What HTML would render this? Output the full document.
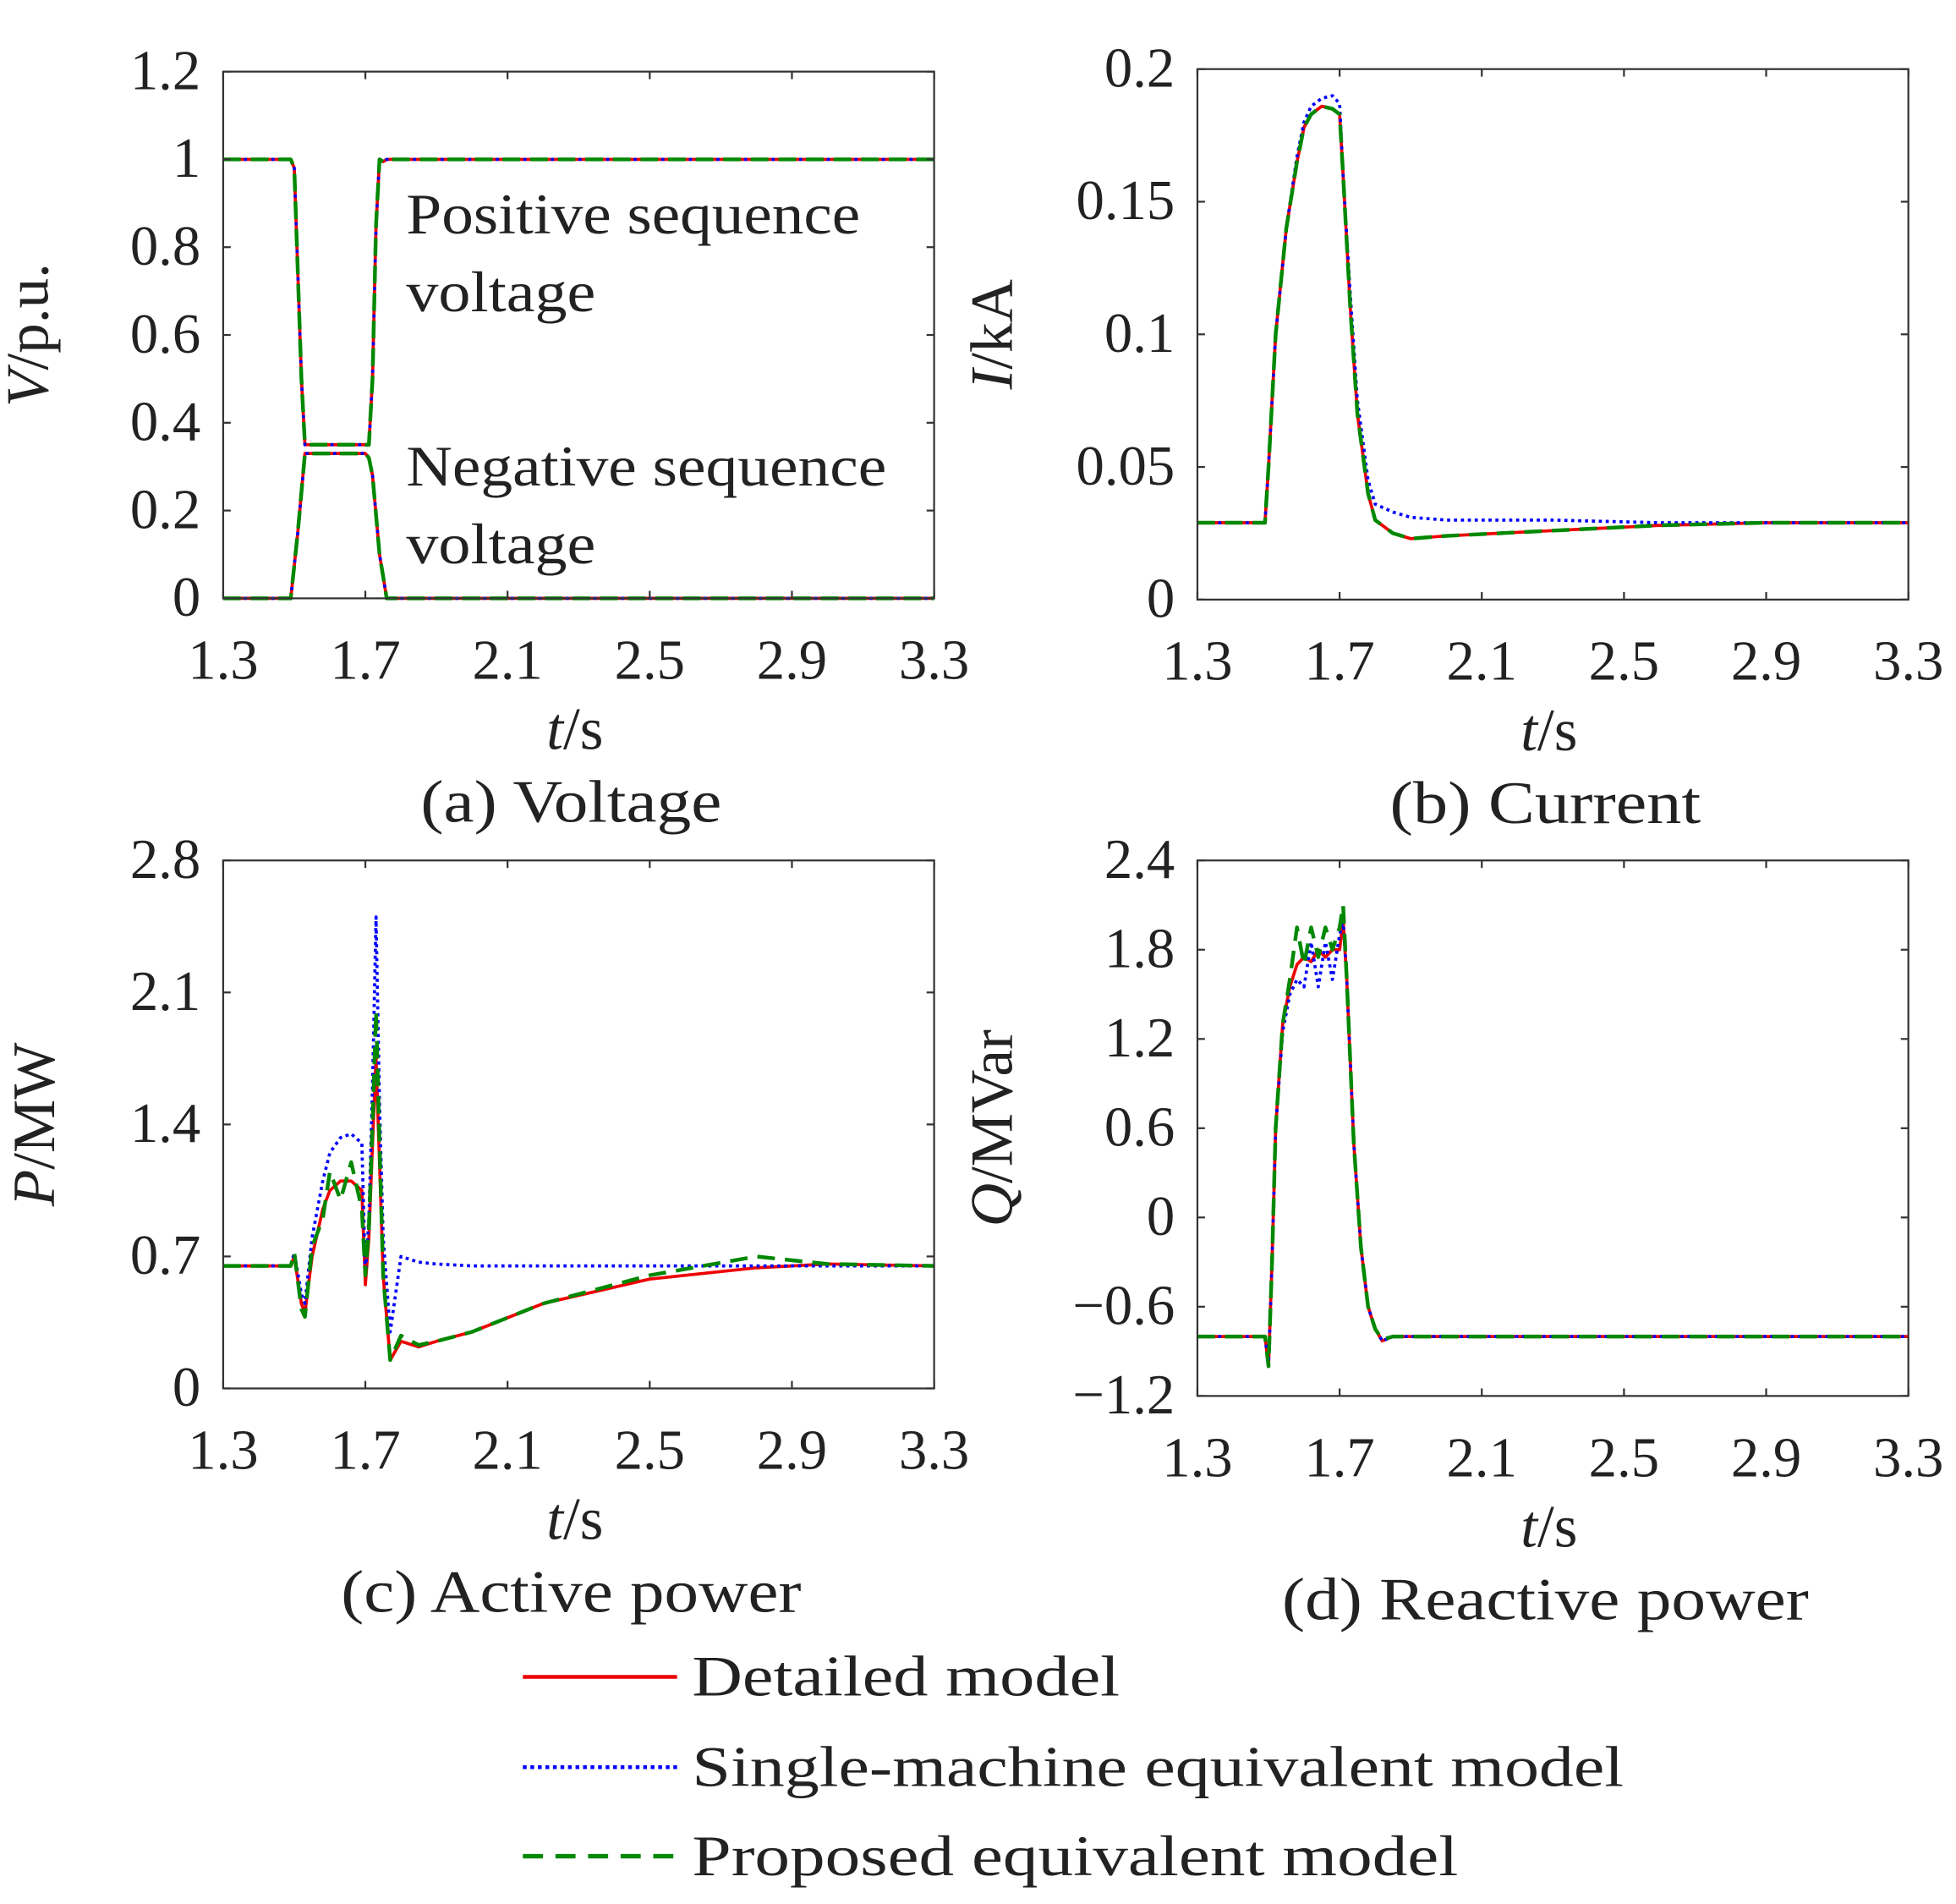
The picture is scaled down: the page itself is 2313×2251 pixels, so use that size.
<!DOCTYPE html>
<html><head><meta charset="utf-8"><style>
html,body{margin:0;padding:0;background:#fff}
svg{display:block}
text{font-family:"Liberation Serif",serif;fill:#222}
</style></head><body>
<svg id="fig" width="2313" height="2251" viewBox="0 0 1560 1518" xmlns="http://www.w3.org/2000/svg">
<g>
  <line x1="417" y1="1337" x2="540" y2="1337" stroke="#e00" stroke-width="3"/>
  <text x="552" y="1352" font-size="46" textLength="341" lengthAdjust="spacingAndGlyphs">Detailed model</text>
  <line x1="417" y1="1409" x2="540" y2="1409" stroke="#00f" stroke-width="3" stroke-dasharray="3,3"/>
  <text x="552" y="1424" font-size="46" textLength="743" lengthAdjust="spacingAndGlyphs">Single-machine equivalent model</text>
  <line x1="417" y1="1480" x2="540" y2="1480" stroke="#080" stroke-width="3.5" stroke-dasharray="16,10"/>
  <text x="552" y="1495" font-size="46" textLength="611" lengthAdjust="spacingAndGlyphs">Proposed equivalent model</text>
</g>
</svg>
<script>
// ---- Panel (a) voltage ----
const tPos=[1.3,1.49,1.50,1.52,1.53,1.71,1.72,1.73,1.74,1.75,1.76,3.3];
const vPos=[1,1,0.98,0.5,0.35,0.35,0.5,0.85,1.0,0.995,1,1];
const tNeg=[1.3,1.49,1.51,1.53,1.70,1.71,1.72,1.74,1.76,3.3];
const vNeg=[0,0,0.15,0.33,0.33,0.32,0.28,0.1,0,0];
// ---- Panel (b) current ----
const tCur=[1.3,1.49,1.5,1.52,1.55,1.58,1.6,1.62,1.65,1.68,1.7,1.71,1.73,1.75,1.78,1.8,1.85,1.9,2.0,2.3,2.6,2.9,3.3];
const iDet=[0.029,0.029,0.05,0.1,0.14,0.165,0.178,0.183,0.186,0.185,0.183,0.16,0.11,0.07,0.04,0.03,0.025,0.023,0.024,0.026,0.028,0.029,0.029];
const iSin=[0.029,0.029,0.05,0.1,0.14,0.167,0.18,0.186,0.189,0.19,0.187,0.16,0.115,0.075,0.045,0.036,0.033,0.031,0.030,0.030,0.029,0.029,0.029];
// ---- Panel (c) active power ----
const tP=[1.3,1.49,1.5,1.52,1.53,1.55,1.58,1.6,1.63,1.66,1.69,1.7,1.71,1.72,1.73,1.74,1.75,1.77,1.8,1.85,1.9,2.0,2.2,2.5,2.8,3.0,3.3];
const pDet=[0.65,0.65,0.7,0.45,0.4,0.7,0.95,1.05,1.1,1.1,1.05,0.55,0.8,1.3,1.75,1.2,0.6,0.15,0.25,0.22,0.25,0.3,0.45,0.58,0.64,0.66,0.65];
const pSin=[0.65,0.65,0.72,0.5,0.45,0.8,1.1,1.25,1.33,1.35,1.3,0.6,0.9,1.6,2.5,1.5,0.8,0.3,0.7,0.67,0.66,0.65,0.65,0.65,0.65,0.65,0.65];
const pPro=[0.65,0.65,0.72,0.42,0.38,0.75,0.9,1.15,1.0,1.2,0.95,0.6,0.85,1.4,2.0,1.3,0.6,0.15,0.28,0.23,0.25,0.3,0.45,0.6,0.7,0.66,0.65];
// ---- Panel (d) reactive power ----
const tQ=[1.3,1.49,1.5,1.51,1.52,1.54,1.56,1.58,1.6,1.62,1.64,1.66,1.68,1.7,1.71,1.72,1.74,1.76,1.78,1.8,1.82,1.85,3.3];
const qDet=[-0.8,-0.8,-1.0,-0.3,0.6,1.3,1.55,1.7,1.75,1.72,1.8,1.75,1.8,1.8,2.0,1.6,0.5,-0.2,-0.6,-0.75,-0.83,-0.8,-0.8];
const qSin=[-0.8,-0.8,-1.0,-0.3,0.6,1.25,1.5,1.6,1.55,1.85,1.55,1.85,1.6,1.9,2.0,1.6,0.5,-0.2,-0.6,-0.75,-0.83,-0.8,-0.8];
const qPro=[-0.8,-0.8,-1.0,-0.3,0.6,1.3,1.6,1.95,1.7,1.95,1.75,1.95,1.8,1.95,2.1,1.6,0.5,-0.2,-0.6,-0.75,-0.82,-0.8,-0.8];
const xTicks=[1.3,1.7,2.1,2.5,2.9,3.3];

const NS='http://www.w3.org/2000/svg';
const svg=document.getElementById('fig');
function mk(tag,attrs,parent){const e=document.createElementNS(NS,tag);for(const k in attrs)e.setAttribute(k,attrs[k]);(parent||svg).appendChild(e);return e;}

function panel(id,box,ymin,ymax,yTicks,yLabelIt,yLabelRest,caption,capW,yOff,series,labels){
  const g=mk('g',{});
  
  
  const [L,T,R,B]=box;
  const sx=v=>L+(v-1.3)/(3.3-1.3)*(R-L);
  const sy=v=>B-(v-ymin)/(ymax-ymin)*(B-T);
  const styles={det:{stroke:'#e00',w:2.5,d:''},sin:{stroke:'#00f',w:2.5,d:'2.5,3'},pro:{stroke:'#080',w:3,d:'14,8'}};
  series.forEach(s=>{
    const p=mk('path',{d:s.t.map((t,i)=>(i?'L':'M')+sx(t).toFixed(1)+','+sy(s.v[i]).toFixed(1)).join(''),fill:'none',stroke:styles[s.k].stroke,'stroke-width':styles[s.k].w,'stroke-dasharray':styles[s.k].d,'stroke-linejoin':'round'},g);
    
    
  });
  const fr=mk('rect',{x:L,y:T,width:R-L,height:B-T,fill:'none',stroke:'#333','stroke-width':1.5},g);
  
  
  xTicks.forEach(v=>{
    const x=sx(v);
    mk('line',{x1:x,y1:B,x2:x,y2:B-6,stroke:'#333','stroke-width':1.5},g);
    mk('line',{x1:x,y1:T,x2:x,y2:T+6,stroke:'#333','stroke-width':1.5},g);
    const tx=mk('text',{x:x,y:B+64,'font-size':45,'text-anchor':'middle'},g);
    tx.textContent=v.toFixed(1);
    
    
  });
  yTicks.forEach((v,i)=>{
    const y=sy(v);
    mk('line',{x1:L,y1:y,x2:L+6,y2:y,stroke:'#333','stroke-width':1.5},g);
    mk('line',{x1:R,y1:y,x2:R-6,y2:y,stroke:'#333','stroke-width':1.5},g);
    const tx=mk('text',{x:L-18,y:y+14,'font-size':45,'text-anchor':'end'},g);
    tx.textContent=labels[i];
    
    
  });
  const xl=mk('text',{x:(L+R)/2-3,y:B+120,'font-size':48,'text-anchor':'middle'},g);
  xl.innerHTML='<tspan font-style="italic">t</tspan>/s';
  
  
  const cy=(T+B)/2;
  const yl=mk('text',{x:0,y:0,'font-size':48,'text-anchor':'middle',transform:`translate(${L-yOff},${cy}) rotate(-90)`},g);
  yl.innerHTML='<tspan font-style="italic">'+yLabelIt+'</tspan>'+yLabelRest;
  
  
  const cp=mk('text',{x:(L+R)/2-6-capW/2,y:B+178,'font-size':48,textLength:capW,lengthAdjust:'spacingAndGlyphs'},g);
  cp.textContent=caption;
  
  
  return g;
}
function trio(t,a,b,c,pre){return [{k:'det',t:t,v:a,name:pre+'-detailed'},{k:'sin',t:t,v:b,name:pre+'-single-machine'},{k:'pro',t:t,v:c,name:pre+'-proposed'}];}

panel('panel-voltage',[178,57,745,477],0,1.2,[0,0.2,0.4,0.6,0.8,1,1.2],'V','/p.u.','(a) Voltage',240,140,
  trio(tPos,vPos,vPos,vPos,'positive-seq').concat(trio(tNeg,vNeg,vNeg,vNeg,'negative-seq')),
  ['0','0.2','0.4','0.6','0.8','1','1.2']);
[['Positive sequence',186,362],['voltage',248,151],['Negative sequence',387,383],['voltage',449,151]].forEach(a=>{
  const t=mk('text',{x:324,y:a[1],'font-size':46,textLength:a[2],lengthAdjust:'spacingAndGlyphs'});
  t.textContent=a[0];
  
  
});
panel('panel-current',[955,55,1522,478],0,0.2,[0,0.05,0.1,0.15,0.2],'I','/kA','(b) Current',248,148,
  trio(tCur,iDet,iSin,iDet,'current'),['0','0.05','0.1','0.15','0.2']);
panel('panel-active-power',[178,686,745,1107],0,2.8,[0,0.7,1.4,2.1,2.8],'P','/MW','(c) Active power',367,135,
  trio(tP,pDet,pSin,pPro,'active-power'),['0','0.7','1.4','2.1','2.8']);
panel('panel-reactive-power',[955,686,1522,1113],-1.2,2.4,[-1.2,-0.6,0,0.6,1.2,1.8,2.4],'Q','/MVar','(d) Reactive power',420,148,
  trio(tQ,qDet,qSin,qPro,'reactive-power'),['\u22121.2','\u22120.6','0','0.6','1.2','1.8','2.4']);
</script>
</body></html>
